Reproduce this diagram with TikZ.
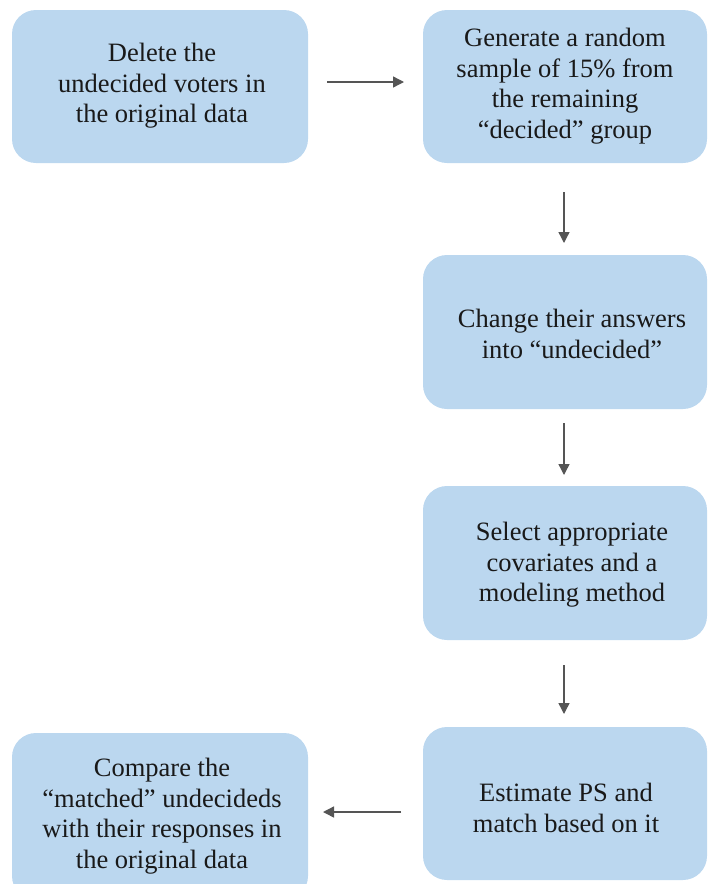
\documentclass[tikz,border=0pt]{standalone}
\usepackage{fontspec}
\setmainfont{Liberation Serif}
\usetikzlibrary{arrows.meta}
\definecolor{boxblue}{HTML}{BBD7EF}
\definecolor{arrowgray}{HTML}{555555}
\begin{document}
\begin{tikzpicture}[x=1pt,y=-1pt,
  boxfill/.style={fill=boxblue, draw=none, rounded corners=24pt},
  boxtext/.style={inner sep=0pt, align=center, text=black!90,
    font=\fontsize{26.5}{30.5}\selectfont},
  flow/.style={draw=arrowgray, line width=1.4pt, -{Triangle[length=11pt,width=11pt]}, arrowgray}]
\useasboundingbox (0,0) rectangle (708,884);
\clip (0,0) rectangle (708,884);
\path[boxfill] (12,10) rectangle (308,163);
\node[boxtext] (b1) at (162,86) {Delete the\\undecided voters in\\the original data};
\path[boxfill] (423,10) rectangle (707,163);
\node[boxtext] (b2) at (565,86) {Generate a random\\sample of 15\% from\\the remaining\\“decided” group};
\path[boxfill] (423,255) rectangle (707,409);
\node[boxtext] (b3) at (572,334) {Change their answers\\into “undecided”};
\path[boxfill] (423,486) rectangle (707,640);
\node[boxtext] (b4) at (572,565) {Select appropriate\\covariates and a\\modeling method};
\path[boxfill] (423,727) rectangle (707,880);
\node[boxtext] (b5) at (566,808) {Estimate PS and\\match based on it};
\path[boxfill] (12,733) rectangle (308,900);
\node[boxtext] (b6) at (162,816) {Compare the\\“matched” undecideds\\with their responses in\\the original data};
\coordinate (a1s) at (327,82); \coordinate (a1e) at (404,82);
\coordinate (a2s) at (564,192); \coordinate (a2e) at (564,243);
\coordinate (a3s) at (564,423); \coordinate (a3e) at (564,475);
\coordinate (a4s) at (564,665); \coordinate (a4e) at (564,714);
\coordinate (a5s) at (401,812); \coordinate (a5e) at (323,812);
\draw[flow] (a1s) -- (a1e);
\draw[flow] (a2s) -- (a2e);
\draw[flow] (a3s) -- (a3e);
\draw[flow] (a4s) -- (a4e);
\draw[flow] (a5s) -- (a5e);
\end{tikzpicture}
\end{document}
